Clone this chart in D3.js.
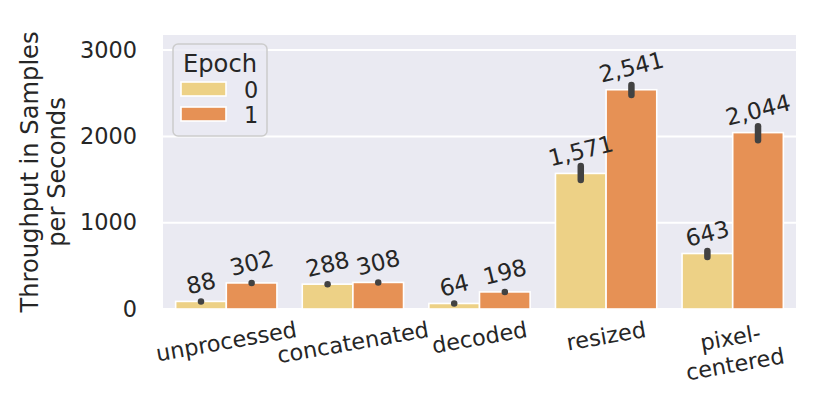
<!DOCTYPE html>
<html>
<head>
<meta charset="utf-8">
<script src="https://cdn.jsdelivr.net/npm/d3@7"></script>
<style>
  body { margin: 0; background: #ffffff; }
  text { font-family: "DejaVu Sans", sans-serif; fill: #262626; }
</style>
</head>
<body>
<div id="chart"></div>
<script>
// datos
const categorias = ["unprocessed", "concatenated", "decoded", "resized", "pixel-\ncentered"];
const epocas = ["0", "1"];
const valoresEpoca0 = [88, 288, 64, 1571, 643];
const valoresEpoca1 = [302, 308, 198, 2541, 2044];
const ciBajoEpoca0 = [88, 288, 64, 1495, 603];
const ciAltoEpoca0 = [88, 288, 64, 1657, 672];
const ciBajoEpoca1 = [302, 308, 198, 2480, 1955];
const ciAltoEpoca1 = [302, 308, 198, 2596, 2117];
const ticksY = [0, 1000, 2000, 3000];

const width = 831;
const height = 403;
const colores = ["#edd186", "#e69155"];
const margen = { left: 163, right: 35, top: 35, bottom: 94 };
const fTick = 22.4;
const fLabel = 24.2;
const fValor = 23;

const svg = d3.select("#chart")
  .append("svg")
  .attr("width", width)
  .attr("height", height);

const x = d3.scaleBand()
  .domain(categorias)
  .range([margen.left, width - margen.right])
  .paddingInner(0.2)
  .paddingOuter(0.1);

const xSub = d3.scaleBand()
  .domain(epocas)
  .range([0, x.bandwidth()]);

const y = d3.scaleLinear()
  .domain([0, 3175])
  .range([height - margen.bottom, margen.top]);

// fondo del area
svg.append("rect")
  .attr("x", margen.left)
  .attr("y", margen.top)
  .attr("width", width - margen.left - margen.right)
  .attr("height", y(0) - margen.top)
  .attr("fill", "#eaeaf2");

svg.append("g")
  .selectAll("line")
  .data(ticksY)
  .enter()
  .append("line")
  .attr("x1", margen.left)
  .attr("x2", width - margen.right)
  .attr("y1", (d) => y(d))
  .attr("y2", (d) => y(d))
  .attr("stroke", "#ffffff")
  .attr("stroke-width", 2);

const yAxis = d3.axisLeft(y).tickValues(ticksY).tickSize(0).tickPadding(26).tickFormat(d3.format("d"));
const gy = svg.append("g").attr("transform", `translate(${margen.left},0)`).call(yAxis);
gy.select(".domain").remove();
gy.selectAll("text").style("font-size", fTick + "px").attr("fill", "#262626");

const filas = [];
categorias.forEach((c, i) => {
  filas.push({ cat: c, ep: "0", v: valoresEpoca0[i], lo: ciBajoEpoca0[i], hi: ciAltoEpoca0[i] });
  filas.push({ cat: c, ep: "1", v: valoresEpoca1[i], lo: ciBajoEpoca1[i], hi: ciAltoEpoca1[i] });
});

svg.append("g")
  .selectAll("rect")
  .data(filas)
  .enter()
  .append("rect")
  .attr("x", (d) => x(d.cat) + xSub(d.ep))
  .attr("y", (d) => y(d.v))
  .attr("width", xSub.bandwidth())
  .attr("height", (d) => y(0) - y(d.v))
  .attr("fill", (d) => colores[epocas.indexOf(d.ep)])
  .attr("stroke", "#ffffff")
  .attr("stroke-width", 1.6);

svg.append("g")
  .selectAll("line")
  .data(filas)
  .enter()
  .append("line")
  .attr("x1", (d) => x(d.cat) + xSub(d.ep) + xSub.bandwidth() / 2)
  .attr("x2", (d) => x(d.cat) + xSub(d.ep) + xSub.bandwidth() / 2)
  .attr("y1", (d) => y(d.lo))
  .attr("y2", (d) => y(d.hi))
  .attr("stroke", "#424242")
  .attr("stroke-width", 6.5)
  .attr("stroke-linecap", "round");

// coloca un texto rotado para que su caja quede en una posicion
function textoRotado(g, lineas, size, cx, yRef, modo, rot) {
  const rad = Math.abs(rot) * Math.PI / 180;
  const t = g.append("text")
    .attr("text-anchor", "middle")
    .style("font-size", size + "px");
  lineas.forEach((l, k) => {
    t.append("tspan").attr("x", 0).attr("dy", k === 0 ? 0 : "1.2em").text(l);
  });
  const b = t.node().getBBox();
  const H = b.width * Math.sin(rad) + b.height * Math.cos(rad);
  const cy = modo === "top" ? yRef + H / 2 : yRef - H / 2;
  t.attr("transform", `translate(${cx},${cy}) rotate(${rot}) translate(${-(b.x + b.width / 2)},${-(b.y + b.height / 2)})`);
}

const etiquetas = svg.append("g");
filas.forEach((d) => {
  const cx = x(d.cat) + xSub(d.ep) + xSub.bandwidth() / 2;
  textoRotado(etiquetas, [d3.format(",")(d.v)], fValor, cx, y(d.v) - 2, "bottom", -14);
});

const ejeX = svg.append("g");
categorias.forEach((c) => {
  textoRotado(ejeX, c.split("\n"), fTick, x(c) + x.bandwidth() / 2, y(0) + 7, "top", -10);
});

// titulo eje y
const yMid = (margen.top + y(0)) / 2;
["Throughput in Samples", "per Seconds"].forEach((l, k) => {
  svg.append("text")
    .attr("transform", `translate(${30 + k * 27},${yMid}) rotate(-90)`)
    .attr("text-anchor", "middle")
    .attr("dominant-baseline", "central")
    .style("font-size", fLabel + "px")
    .text(l);
});

// leyenda
const leyenda = svg.append("g");
leyenda.append("rect")
  .attr("x", 173)
  .attr("y", 44)
  .attr("width", 94)
  .attr("height", 92)
  .attr("rx", 5)
  .attr("fill", "#eaeaf2")
  .attr("fill-opacity", 0.8)
  .attr("stroke", "#cccccc")
  .attr("stroke-width", 1.5);
leyenda.append("text")
  .attr("x", 220)
  .attr("y", 72)
  .attr("text-anchor", "middle")
  .style("font-size", fLabel + "px")
  .text("Epoch");
epocas.forEach((e, i) => {
  leyenda.append("rect")
    .attr("x", 181)
    .attr("y", 82 + i * 25)
    .attr("width", 45)
    .attr("height", 14)
    .attr("fill", colores[i])
    .attr("stroke", "#ffffff")
    .attr("stroke-width", 1.6);
  leyenda.append("text")
    .attr("x", 244)
    .attr("y", 98 + i * 25)
    .style("font-size", fTick + "px")
    .text(e);
});
</script>
</body>
</html>
